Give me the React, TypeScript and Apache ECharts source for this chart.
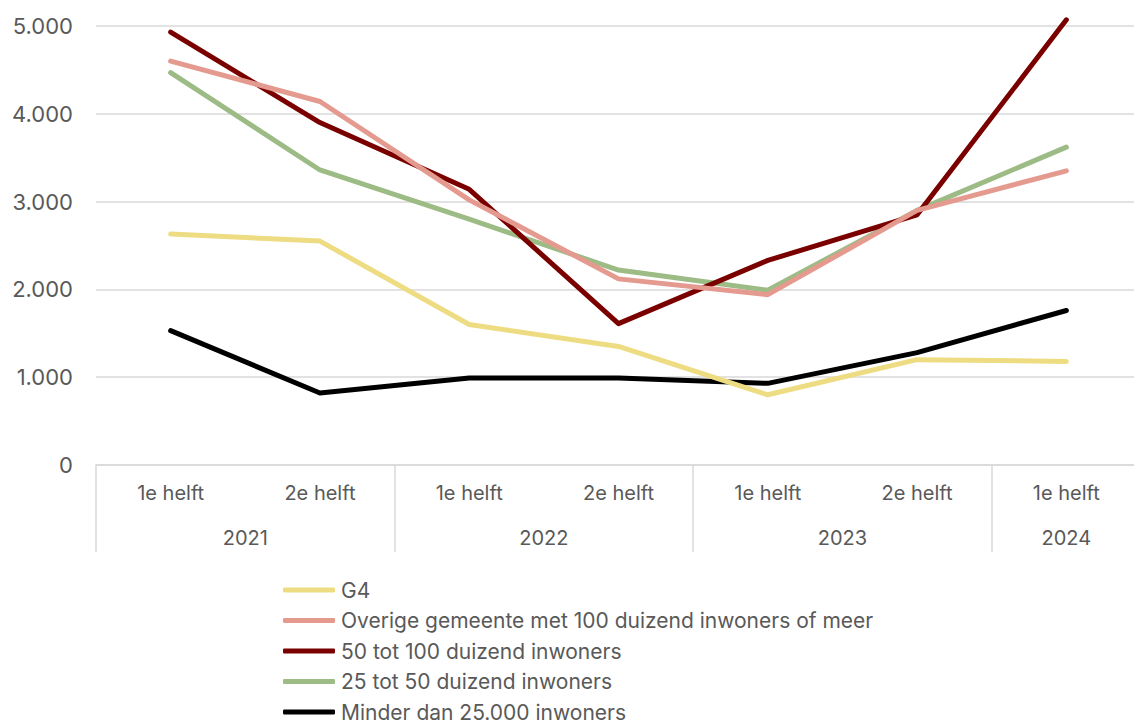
import React, { useEffect, useRef } from "react";
import * as echarts from "echarts";

const halves = ["1e helft", "2e helft", "1e helft", "2e helft", "1e helft", "2e helft", "1e helft"];
const years = ["2021", "2022", "2023", "2024"];
const yearCenters = [1, 3, 5, 6.5];
const yearBounds = [0, 2, 4, 6];

const g4 = [2630, 2550, 1600, 1350, 800, 1200, 1180];
const overige = [4600, 4140, 3020, 2120, 1940, 2900, 3350];
const tot100 = [4930, 3900, 3140, 1610, 2330, 2850, 5070];
const tot50 = [4470, 3360, 2800, 2220, 1990, 2900, 3620];
const minder = [1530, 820, 990, 990, 930, 1280, 1760];

const seriesNames = [
  "G4",
  "Overige gemeente met 100 duizend inwoners of meer",
  "50 tot 100 duizend inwoners",
  "25 tot 50 duizend inwoners",
  "Minder dan 25.000 inwoners",
];
const seriesData = [g4, overige, tot100, tot50, minder];
const colors = ["#EEDC82", "#E59A90", "#7A0000", "#9CBB85", "#000000"];

const FONT = "Inter, 'Liberation Sans', Arial, sans-serif";
const TXT = "#595959";
const GRIDC = "#D9D9D9";

export default function App() {
  const ref = useRef<HTMLDivElement>(null);
  useEffect(() => {
    if (!ref.current) return;
    const chart = echarts.init(ref.current, undefined, { renderer: "svg" });
    chart.setOption({
      animation: false,
      textStyle: { fontFamily: FONT },
      grid: { left: 96, right: 0, top: 26, bottom: 257, containLabel: false },
      legend: {
        orient: "vertical",
        left: 283,
        top: 579,
        height: 200,
        padding: 0,
        itemWidth: 52,
        itemHeight: 5,
        itemGap: 8.5,
        icon: "roundRect",
        textStyle: { color: TXT, fontSize: 21, lineHeight: 22, fontFamily: FONT, padding: [0, 0, 0, 1] },
        data: seriesNames,
      },
      xAxis: [
        {
          type: "category",
          data: halves,
          boundaryGap: true,
          axisLine: { show: true, lineStyle: { color: GRIDC, width: 1.5 } },
          axisTick: { show: false },
          axisLabel: { color: TXT, fontSize: 20, margin: 18, fontFamily: FONT },
          splitLine: { show: false },
        },
        {
          type: "value",
          min: 0,
          max: 7,
          position: "bottom",
          axisLine: { show: false },
          splitLine: { show: false },
          axisTick: {
            show: true,
            customValues: yearBounds,
            length: 87,
            lineStyle: { color: GRIDC, width: 1.5 },
          },
          axisLabel: {
            show: true,
            customValues: yearCenters,
            margin: 63,
            color: TXT,
            fontSize: 20,
            fontFamily: FONT,
            formatter: (v: number) => {
              const i = yearCenters.indexOf(v);
              return i >= 0 ? years[i] : "";
            },
          },
        },
      ],
      yAxis: {
        type: "value",
        min: 0,
        max: 5000,
        interval: 1000,
        axisLine: { show: false },
        axisTick: { show: false },
        splitLine: { show: true, lineStyle: { color: GRIDC, width: 1.5 } },
        axisLabel: {
          color: TXT,
          fontSize: 22,
          margin: 23,
          fontFamily: FONT,
          formatter: (v: number) => v.toLocaleString("de-DE"),
        },
      },
      series: seriesNames.map((name, i) => ({
        name,
        type: "line",
        xAxisIndex: 0,
        data: seriesData[i],
        symbol: "none",
        clip: false,
        itemStyle: { color: colors[i] },
        lineStyle: { color: colors[i], width: 5, cap: "round", join: "round" },
        z: 10 - i,
      })),
    });
    return () => chart.dispose();
  }, []);
  return (
    <div
      ref={ref}
      style={{ position: "fixed", left: 0, top: 0, width: 1141, height: 722, background: "#fff" }}
    />
  );
}
